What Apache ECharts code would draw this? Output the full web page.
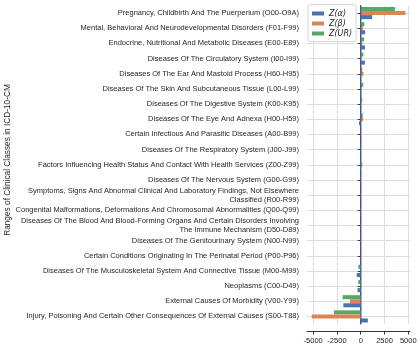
<!DOCTYPE html>
<html>
<head>
<meta charset="utf-8">
<script src="https://cdn.jsdelivr.net/npm/echarts@6/dist/echarts.min.js"></script>
<style>
html,body{margin:0;padding:0;background:#fff;}
#chart{width:420px;height:348px;}
</style>
</head>
<body>
<div id="chart"></div>
<script>
const categories = [
  "Pregnancy, Childbirth And The Puerperium (O00-O9A)",
  "Mental, Behavioral And Neurodevelopmental Disorders (F01-F99)",
  "Endocrine, Nutritional And Metabolic Diseases (E00-E89)",
  "Diseases Of The Circulatory System (I00-I99)",
  "Diseases Of The Ear And Mastoid Process (H60-H95)",
  "Diseases Of The Skin And Subcutaneous Tissue (L00-L99)",
  "Diseases Of The Digestive System (K00-K95)",
  "Diseases Of The Eye And Adnexa (H00-H59)",
  "Certain Infectious And Parasitic Diseases (A00-B99)",
  "Diseases Of The Respiratory System (J00-J99)",
  "Factors Influencing Health Status And Contact With Health Services (Z00-Z99)",
  "Diseases Of The Nervous System (G00-G99)",
  "Symptoms, Signs And Abnormal Clinical And Laboratory Findings, Not Elsewhere\nClassified (R00-R99)",
  "Congenital Malformations, Deformations And Chromosomal Abnormalities (Q00-Q99)",
  "Diseases Of The Blood And Blood-Forming Organs And Certain Disorders Involving\nThe Immune Mechanism (D50-D89)",
  "Diseases Of The Genitourinary System (N00-N99)",
  "Certain Conditions Originating In The Perinatal Period (P00-P96)",
  "Diseases Of The Musculoskeletal System And Connective Tissue (M00-M99)",
  "Neoplasms (C00-D49)",
  "External Causes Of Morbidity (V00-Y99)",
  "Injury, Poisoning And Certain Other Consequences Of External Causes (S00-T88)"
];
const zAlpha = [1200, 470, 450, 440, 40, 30, 20, -180, 10, -20, -70, 15, 10, -50, 10, 15, 10, -420, -340, -1830, 750];
const zBeta  = [4700, 220, 170, 50, 280, 60, 50, 250, 20, 30, 170, 20, 15, 20, 10, 20, 10, -30, -30, -1130, -5150];
const zUR    = [3600, 380, 350, 280, 150, 260, 150, 200, 20, 20, 30, 20, 15, 15, 10, 15, 10, -260, -260, -1900, -2820];
const xTicks = [-5000, -2500, 0, 2500, 5000];
const seriesNames = ["Z(\u03b1)", "Z(\u03b2)", "Z(UR)"];
const colors = ["#4C72B0", "#DD8452", "#55A868"];
const yTitle = "Ranges of Clinical Classes in ICD-10-CM";

const font = "Liberation Sans, Arial, sans-serif";
const chart = echarts.init(document.getElementById('chart'), null, {renderer: 'canvas'});

function barSeries(name, data, color, extra) {
  return Object.assign({
    name: name,
    type: 'bar',
    data: data,
    itemStyle: {color: color},
    barGap: '0%',
    barCategoryGap: '20%'
  }, extra || {});
}

const option = {
  animation: false,
  color: colors,
  grid: {left: 307, right: 10, top: 5.5, bottom: 24, containLabel: false},
  legend: {
    orient: 'vertical',
    left: 308, top: 4.5,
    data: seriesNames,
    icon: 'rect',
    itemWidth: 12, itemHeight: 4, itemGap: 2,
    padding: [5, 4, 4, 4],
    textStyle: {fontSize: 8, fontStyle: 'italic', color: '#262626', fontFamily: 'DejaVu Sans'},
    backgroundColor: 'rgba(255,255,255,0.85)',
    borderColor: '#cccccc', borderWidth: 0.8, borderRadius: 2
  },
  xAxis: {
    type: 'value',
    min: -5650, max: 5180,
    offset: 7,
    axisLine: {show: true, lineStyle: {color: '#333', width: 1}},
    axisTick: {show: true, length: 3.5, customValues: xTicks, lineStyle: {color: '#333'}},
    axisLabel: {
      customValues: xTicks, fontSize: 7.5, color: '#262626', margin: 6, fontFamily: font,
      hideOverlap: false, showMinLabel: true, showMaxLabel: true,
      formatter: function (v) { return String(v); }
    },
    splitLine: {show: true, lineStyle: {color: '#dddddd', width: 1}}
  },
  yAxis: {
    type: 'category',
    inverse: true,
    data: categories,
    offset: 5,
    axisLine: {show: true, lineStyle: {color: '#333', width: 1}},
    axisTick: {show: true, alignWithLabel: true, length: 3, lineStyle: {color: '#333'}},
    axisLabel: {fontSize: 7.5, color: '#262626', margin: 3, lineHeight: 9, fontFamily: font, interval: 0, align: 'right'},
    splitLine: {show: true, alignWithLabel: true, lineStyle: {color: '#dddddd', width: 1}}
  },
  graphic: [{
    type: 'text',
    x: 4, y: 160,
    rotation: Math.PI / 2,
    style: {text: yTitle, fontSize: 8.3, fill: '#262626', fontFamily: font, align: 'center', verticalAlign: 'top'}
  }],
  series: [
    barSeries(seriesNames[2], zUR, colors[2]),
    barSeries(seriesNames[1], zBeta, colors[1]),
    barSeries(seriesNames[0], zAlpha, colors[0], {
      markLine: {
        silent: true, symbol: 'none', z: 10,
        label: {show: false},
        lineStyle: {color: 'rgba(76,114,176,0.55)', width: 2, type: 'solid'},
        data: [{xAxis: 0}]
      }
    })
  ]
};
chart.setOption(option);
</script>
</body>
</html>
